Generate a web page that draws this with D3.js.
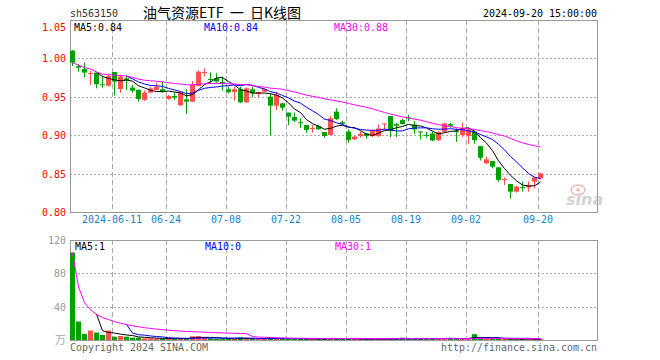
<!DOCTYPE html>
<html><head><meta charset="utf-8">
<script src="https://cdn.jsdelivr.net/npm/d3@7"></script>
<style>html,body{margin:0;padding:0;background:#fff;}svg{display:block;}</style>
</head><body>
<svg id="c" width="660" height="360"></svg>
<script>
const dates = ["2024-05-30","2024-05-31","2024-06-03","2024-06-04","2024-06-05","2024-06-06","2024-06-07","2024-06-11","2024-06-12","2024-06-13",
"2024-06-14","2024-06-17","2024-06-18","2024-06-19","2024-06-20","2024-06-21","2024-06-24","2024-06-25","2024-06-26","2024-06-27",
"2024-06-28","2024-07-01","2024-07-02","2024-07-03","2024-07-04","2024-07-05","2024-07-08","2024-07-09","2024-07-10","2024-07-11",
"2024-07-12","2024-07-15","2024-07-16","2024-07-17","2024-07-18","2024-07-19","2024-07-22","2024-07-23","2024-07-24","2024-07-25",
"2024-07-26","2024-07-29","2024-07-30","2024-07-31","2024-08-01","2024-08-02","2024-08-05","2024-08-06","2024-08-07","2024-08-08",
"2024-08-09","2024-08-12","2024-08-13","2024-08-14","2024-08-15","2024-08-16","2024-08-19","2024-08-20","2024-08-21","2024-08-22",
"2024-08-23","2024-08-26","2024-08-27","2024-08-28","2024-08-29","2024-08-30","2024-09-02","2024-09-03","2024-09-04","2024-09-05",
"2024-09-06","2024-09-09","2024-09-10","2024-09-11","2024-09-12","2024-09-13","2024-09-18","2024-09-19","2024-09-20"];
const opens = [1.0101,0.990,0.9862,0.980,0.9815,0.9663,0.9645,0.9823,0.9602,0.974,
0.962,0.959,0.9459,0.9554,0.959,0.9598,0.9472,0.9511,0.939,0.9467,
0.9437,0.964,0.9819,0.9732,0.974,0.9693,0.9598,0.9563,0.9598,0.9428,
0.9598,0.9537,0.9567,0.9502,0.9385,0.9415,0.9294,0.9237,0.9168,0.9133,
0.9086,0.912,0.9042,0.9003,0.9307,0.917,0.9047,0.8947,0.899,0.9023,
0.8988,0.8988,0.9144,0.9249,0.9144,0.9196,0.9231,0.914,0.9049,0.9005,
0.9023,0.8936,0.9045,0.9144,0.9053,0.9001,0.8988,0.9045,0.8858,0.8634,
0.8664,0.8582,0.8417,0.8365,0.8265,0.8326,0.8321,0.8395,0.8438];
const highs = [1.011,0.9927,0.9945,0.984,0.9815,0.977,0.9784,0.9823,0.9784,0.977,
0.9654,0.9598,0.958,0.9632,0.9684,0.9698,0.9524,0.9554,0.9567,0.9598,
0.9706,0.984,0.9871,0.9819,0.9806,0.9763,0.9632,0.9632,0.9632,0.9624,
0.9632,0.9567,0.961,0.9537,0.9567,0.9424,0.9294,0.9294,0.922,0.9133,
0.9133,0.9133,0.9042,0.925,0.935,0.919,0.9077,0.899,0.9047,0.9023,
0.9075,0.914,0.9153,0.9249,0.9162,0.9214,0.9262,0.9183,0.9049,0.904,
0.9045,0.9053,0.9162,0.9162,0.9088,0.9162,0.9088,0.9062,0.8858,0.8721,
0.8664,0.8582,0.8451,0.8365,0.8339,0.8395,0.8395,0.8451,0.8512];
const lows = [0.990,0.9828,0.9754,0.9654,0.961,0.962,0.9632,0.9515,0.9554,0.959,
0.9554,0.9437,0.9446,0.9546,0.959,0.9554,0.9463,0.9459,0.938,0.9277,
0.9433,0.964,0.9763,0.9684,0.9684,0.958,0.9546,0.945,0.942,0.942,
0.9494,0.9494,0.9563,0.9003,0.9329,0.932,0.9133,0.9172,0.9094,0.9034,
0.9034,0.9068,0.8968,0.8999,0.9198,0.913,0.8903,0.8938,0.8968,0.8953,
0.8975,0.8979,0.9075,0.8975,0.8975,0.914,0.9183,0.9019,0.8945,0.8966,
0.8923,0.8923,0.9032,0.9097,0.8914,0.8975,0.8888,0.8888,0.8671,0.8626,
0.8568,0.8395,0.8352,0.8178,0.8252,0.8265,0.8265,0.8308,0.8425];
const closes = [0.9945,0.988,0.9815,0.981,0.9663,0.965,0.977,0.9698,0.9763,0.971,
0.958,0.9472,0.9554,0.961,0.9632,0.9567,0.9511,0.9489,0.9554,0.9437,
0.9654,0.9828,0.9823,0.9724,0.9698,0.9684,0.9559,0.9598,0.9428,0.961,
0.9546,0.9563,0.9598,0.9385,0.9524,0.9359,0.9242,0.919,0.9159,0.9068,
0.9094,0.9077,0.899,0.922,0.9211,0.915,0.8938,0.8981,0.9016,0.8988,
0.9062,0.9088,0.9153,0.9062,0.9123,0.9144,0.9218,0.9075,0.904,0.8997,
0.8932,0.904,0.9153,0.9123,0.904,0.9088,0.9075,0.8935,0.8706,0.8686,
0.859,0.8417,0.843,0.8265,0.833,0.8313,0.8352,0.8451,0.8503];
const volumes = [105,22.2,7.3,11.3,8.9,6.1,11.3,4.0,4.8,4.0,
2.8,2.8,2.0,2.0,1.8,1.5,1.5,1.2,2.2,2.0,
4.5,4.8,2.5,1.8,1.5,1.2,1.5,1.4,3.0,1.8,
1.6,1.2,1.3,2.8,1.8,1.5,1.6,1.4,1.2,1.5,
1.3,1.1,1.6,2.2,1.8,1.3,1.6,1.2,1.0,1.1,
1.3,1.5,1.0,2.0,1.3,2.8,1.2,1.5,1.2,2.5,
1.6,1.4,2.0,2.5,1.3,1.5,2.0,7.0,2.2,1.5,
1.2,1.8,1.0,1.2,0.8,0.7,2.5,0.6,0.5];
const tickDates = ["2024-06-11","2024-06-24","2024-07-08","2024-07-22","2024-08-05","2024-08-19","2024-09-02","2024-09-20"];
const tickLabels = ["2024-06-11","06-24","07-08","07-22","08-05","08-19","09-02","09-20"];
const priceTicks = [0.80,0.85,0.90,0.95,1.00,1.05];
const volTicks = [40,80,120];
const volLegendValues = [1,0,1];
const maPeriods = [5,10,30];
const maColors = ["#000000","#0000ff","#ff00ff"];

const svg = d3.select("#c");
const RED = "#ff5050", GREEN = "#00a000", GRID = "#aaaaaa", BORDER = "#999999";
const L = 70, R = 597, PT = 20, PB = 212, VT = 240, VB = 340;
const nSlots = 88;
const x = d3.scaleBand().domain(d3.range(nSlots)).range([L, L + nSlots*6 - 1]).paddingInner(1/6).paddingOuter(0);
const bw = x.bandwidth();
const cx = i => x(i) + bw/2;
const y = d3.scaleLinear().domain([0.80,1.05]).range([PB,PT]);
const yv = d3.scaleLinear().domain([0,120]).range([VB,VT]);

function mono(g, xx, yy, str, color, anchor, size) {
  size = size || 11;
  return g.append("text").attr("x", xx).attr("y", yy).text(str)
    .attr("font-family","DejaVu Sans Mono, monospace").attr("font-size", size)
    .attr("fill", color).attr("text-anchor", anchor || "start")
    .attr("textLength", str.length*6).attr("lengthAdjust","spacingAndGlyphs");
}

function ma(arr, p, cumulativeStart) {
  return arr.map((v,i) => {
    if (i < p-1) {
      if (!cumulativeStart) return null;
      return d3.mean(arr.slice(0,i+1));
    }
    return d3.mean(arr.slice(i-p+1,i+1));
  });
}
const priceMA = maPeriods.map(p => ma(closes, p, p===30));
const volMA = maPeriods.map(p => ma(volumes, p, p===30));

const tickIdx = tickDates.map(d => dates.indexOf(d));

const g = svg.append("g");
g.selectAll(".hg").data(priceTicks.filter(t => t>0.80 && t<1.05)).enter().append("line")
  .attr("x1",L).attr("x2",R).attr("y1",d=>Math.round(y(d))+0.5).attr("y2",d=>Math.round(y(d))+0.5)
  .attr("stroke",GRID).attr("stroke-dasharray","2,2");
g.selectAll(".vg").data(tickIdx).enter().append("line")
  .attr("x1",d=>x(d)+0.5).attr("x2",d=>x(d)+0.5).attr("y1",PT).attr("y2",PB)
  .attr("stroke",GRID).attr("stroke-dasharray","5,3");
g.selectAll(".hgv").data(volTicks.filter(t=>t<120)).enter().append("line")
  .attr("x1",L).attr("x2",R).attr("y1",d=>Math.round(yv(d))+0.5).attr("y2",d=>Math.round(yv(d))+0.5)
  .attr("stroke",GRID).attr("stroke-dasharray","2,2");
g.selectAll(".vgv").data(tickIdx).enter().append("line")
  .attr("x1",d=>x(d)+0.5).attr("x2",d=>x(d)+0.5).attr("y1",VT).attr("y2",VB)
  .attr("stroke",GRID).attr("stroke-dasharray","5,3");

svg.append("rect").attr("x",L+0.5).attr("y",PT+0.5).attr("width",R-L).attr("height",PB-PT)
  .attr("fill","none").attr("stroke",BORDER);
svg.append("rect").attr("x",L+0.5).attr("y",VT+0.5).attr("width",R-L).attr("height",VB-VT)
  .attr("fill","none").attr("stroke",BORDER);

// watermark
const wm = svg.append("g").attr("opacity",0.55);
wm.append("ellipse").attr("cx",578).attr("cy",190).attr("rx",7).attr("ry",5).attr("fill","none").attr("stroke","#e08080").attr("stroke-width",1.5);
wm.append("circle").attr("cx",578).attr("cy",190).attr("r",1.8).attr("fill","#e08080");
wm.append("text").attr("x",566).attr("y",205).text("sina").attr("font-family","DejaVu Sans, sans-serif")
  .attr("font-size",16).attr("font-weight","bold").attr("font-style","italic").attr("fill","#b0b0b0");

const data = dates.map((d,i)=>({i, o:opens[i], h:highs[i], l:lows[i], c:closes[i], v:volumes[i]}));
const col = d => d.c >= d.o ? RED : GREEN;
const cg = svg.append("g");
cg.selectAll(".wick").data(data).enter().append("line")
  .attr("x1",d=>Math.floor(cx(d.i))+0.5).attr("x2",d=>Math.floor(cx(d.i))+0.5)
  .attr("y1",d=>y(d.h)).attr("y2",d=>y(d.l)).attr("stroke",col).attr("stroke-width",1);
cg.selectAll(".body").data(data).enter().append("rect")
  .attr("x",d=>x(d.i)).attr("width",bw)
  .attr("y",d=>Math.min(y(d.o),y(d.c)))
  .attr("height",d=>Math.max(1,Math.abs(y(d.o)-y(d.c))))
  .attr("fill",col);

cg.selectAll(".vb").data(data).enter().append("rect")
  .attr("x",d=>x(d.i)).attr("width",bw)
  .attr("y",d=>Math.min(yv(d.v), VB-1)).attr("height",d=>Math.max(1, VB-yv(d.v)))
  .attr("fill",col);

priceMA.forEach((arr,k)=>{
  const line = d3.line().defined(v=>v!==null).x((v,i)=>cx(i)).y(v=>y(v));
  svg.append("path").datum(arr).attr("d",line).attr("fill","none").attr("stroke",maColors[k]).attr("stroke-width",1);
});
volMA.forEach((arr,k)=>{
  const line = d3.line().defined(v=>v!==null).x((v,i)=>cx(i)).y(v=>yv(v));
  svg.append("path").datum(arr).attr("d",line).attr("fill","none").attr("stroke",maColors[k]).attr("stroke-width",1);
});

const tg = svg.append("g");
priceTicks.forEach(t => mono(tg, 66, Math.max(y(t)+4, PT+11), t.toFixed(2), "#ff0000", "end"));
volTicks.forEach(t => mono(tg, 66, yv(t)+4, String(t), "#999999", "end"));
tg.append("text").attr("x",66).attr("y",344).text("万").attr("text-anchor","end")
  .attr("font-family","Noto Sans CJK SC").attr("font-size",11).attr("fill","#aaaaaa");
tickIdx.forEach((ti,k) => mono(tg, x(ti), 223, tickLabels[k], "#1a7fd0", "middle"));

const last = closes.length-1;
const legendX = [74,204,334];
maPeriods.forEach((p,k)=>{
  mono(tg, legendX[k], 31, "MA"+p+":"+priceMA[k][last].toFixed(2), maColors[k], "start");
  mono(tg, legendX[k]+1, 250, "MA"+p+":"+volLegendValues[k], maColors[k], "start");
});

mono(tg, 70, 17, "sh563150", "#333333", "start");
tg.append("text").attr("x",222).attr("y",18).attr("text-anchor","middle").attr("xml:space","preserve")
  .style("white-space","pre").text("油气资源ETF  一  日K线图")
  .attr("font-family","Noto Sans CJK SC").attr("font-size",14).attr("fill","#000");
mono(tg, 597, 17, "2024-09-20 15:00:00", "#000000", "end");

mono(tg, 70, 351, "Copyright 2024 SINA.COM", "#666666", "start");
mono(tg, 597, 351, "http://finance.sina.com.cn", "#666666", "end");
</script>
</body></html>
